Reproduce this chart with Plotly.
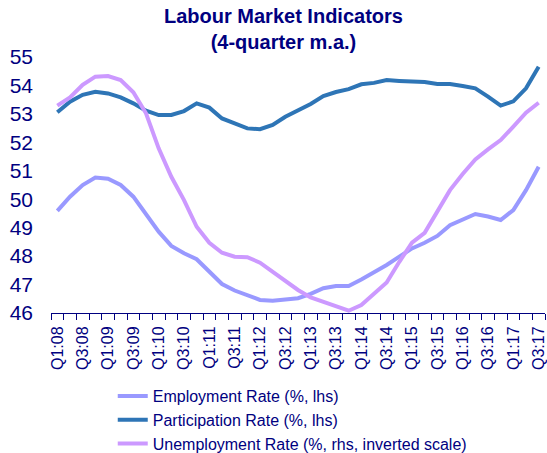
import plotly.graph_objects as go

quarters = [f"Q{q}:{y:02d}" for y in range(8, 18) for q in (1, 2, 3, 4)][:39]

employment = [49.59, 50.09, 50.50, 50.76, 50.72, 50.50, 50.09, 49.45, 48.86, 48.36,
              48.10, 47.89, 47.45, 47.02, 46.79, 46.63, 46.46, 46.43, 46.46, 46.52,
              46.67, 46.87, 46.95, 46.95, 47.18, 47.42, 47.69, 47.98, 48.27, 48.47,
              48.71, 49.09, 49.29, 49.48, 49.39, 49.27, 49.62, 50.32, 51.14]

participation = [53.06, 53.43, 53.67, 53.78, 53.72, 53.58, 53.37, 53.11, 52.96, 52.96,
                 53.10, 53.37, 53.22, 52.84, 52.67, 52.49, 52.46, 52.61, 52.90, 53.11,
                 53.35, 53.63, 53.77, 53.87, 54.04, 54.09, 54.19, 54.16, 54.13, 54.12,
                 54.05, 54.05, 53.98, 53.90, 53.61, 53.29, 53.44, 53.90, 54.66]

unemployment = [9.42, 8.84, 7.96, 7.38, 7.34, 7.62, 8.48, 9.96, 12.42, 14.42,
                16.06, 17.94, 19.06, 19.76, 20.04, 20.08, 20.46, 21.10, 21.80, 22.38,
                22.90, 23.20, 23.50, 23.84, 23.44, 22.62, 21.86, 20.40, 19.06, 18.36,
                16.88, 15.36, 14.22, 13.20, 12.50, 11.84, 10.90, 9.92, 9.22]

idx = list(range(len(quarters)))
navy = "#000080"

fig = go.Figure()
fig.add_trace(go.Scatter(x=idx, y=employment, mode="lines", name="Employment Rate (%, lhs)",
                         line=dict(color="#9999FF", width=4)))
fig.add_trace(go.Scatter(x=idx, y=participation, mode="lines", name="Participation Rate (%, lhs)",
                         line=dict(color="#2E75B6", width=4)))
fig.add_trace(go.Scatter(x=idx, y=unemployment, mode="lines",
                         name="Unemployment Rate (%, rhs, inverted scale)",
                         line=dict(color="#CC99FF", width=4), yaxis="y2"))

fig.add_annotation(text="<b>Labour Market Indicators</b><br><b>(4-quarter m.a.)</b>",
                   xref="paper", yref="paper", x=0.47, y=1.21, xanchor="center",
                   yanchor="top", showarrow=False, font=dict(size=20, color=navy))

fig.update_layout(
    width=547, height=453,
    margin=dict(l=51, r=2, t=57, b=140, autoexpand=False),
    paper_bgcolor="white", plot_bgcolor="white",
    font=dict(family="Liberation Sans, Arial, sans-serif", color=navy),
    xaxis=dict(range=[-0.5, 38.5], tickmode="array", tickvals=idx[::2],
               ticktext=quarters[::2], tickangle=-90, ticks="", ticklabelstandoff=6,
               tickfont=dict(size=16, color=navy),
               showline=True, linecolor=navy, linewidth=1, showgrid=False, zeroline=False,
               minor=dict(tickmode="linear", tick0=-0.5, dtick=1, ticks="outside",
                          ticklen=6, tickcolor=navy, showgrid=False)),
    yaxis=dict(range=[46, 55], dtick=1, showgrid=False, zeroline=False, showline=False,
               ticks="", ticklabelstandoff=17, tickfont=dict(size=21, color=navy)),
    yaxis2=dict(range=[24, 6], overlaying="y", side="right", visible=False,
                showgrid=False, zeroline=False),
    legend=dict(x=0.125, y=-0.258, xanchor="left", yanchor="top",
                font=dict(size=16, color=navy), tracegroupgap=0,
                bgcolor="rgba(0,0,0,0)"),
    showlegend=True,
)

fig.write_html("out.html", config={"displayModeBar": False},
               post_script="document.body.style.margin='0';")
